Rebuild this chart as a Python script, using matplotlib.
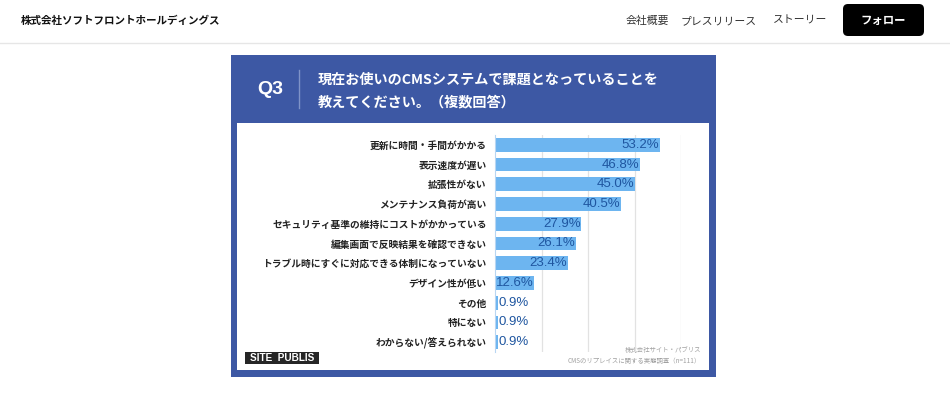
import numpy as np
import matplotlib
matplotlib.use("Agg")
import matplotlib.pyplot as plt
from matplotlib.patches import Rectangle, FancyBboxPatch

plt.rcParams["font.family"] = ["Noto Sans CJK JP", "DejaVu Sans"]

# ---------- data ----------
categories = [
    "更新に時間・手間がかかる",
    "表示速度が遅い",
    "拡張性がない",
    "メンテナンス負荷が高い",
    "セキュリティ基準の維持にコストがかかっている",
    "編集画面で反映結果を確認できない",
    "トラブル時にすぐに対応できる体制になっていない",
    "デザイン性が低い",
    "その他",
    "特にない",
    "わからない/答えられない",
]
values = [53.2, 46.8, 45.0, 40.5, 27.9, 26.1, 23.4, 12.6, 0.9, 0.9, 0.9]
grid_ticks = [15, 30, 45, 60]

title_lines = ["現在お使いのCMSシステムで課題となっていることを", "教えてください。（複数回答）"]
nav_items = ["会社概要", "プレスリリース", "ストーリー"]

W, H = 950, 396
FRAME_BLUE = "#3d58a4"
BAR_BLUE = "#6db5f0"
VAL_BLUE = "#1f56a0"

fig = plt.figure(figsize=(W / 100, H / 100), dpi=100)
fig.patch.set_facecolor("white")

# page layer in pixel coords
bg = fig.add_axes([0, 0, 1, 1])
bg.set_xlim(0, W)
bg.set_ylim(H, 0)
bg.axis("off")

# ---------- header (baseline aligned) ----------
bg.text(21, 24, "株式会社ソフトフロントホールディングス", fontsize=7.6,
        fontweight="bold", color="#111111", va="baseline", ha="left")
for label, x in zip(nav_items, [626, 681, 773]):
    bg.text(x, 24, label, fontsize=7.8, color="#333333", va="baseline", ha="left")
bg.add_patch(FancyBboxPatch((843, 4), 81, 32, boxstyle="round,pad=0,rounding_size=5",
                            facecolor="black", edgecolor="none"))
bg.text(883, 24, "フォロー", fontsize=8.2, fontweight="bold", color="white",
        va="baseline", ha="center")
bg.plot([0, W], [43, 43], color="#e6e6e6", lw=1)

# ---------- chart card ----------
bg.add_patch(Rectangle((231, 55), 485, 322, facecolor=FRAME_BLUE, edgecolor="none"))
bg.add_patch(Rectangle((237, 123), 472, 247, facecolor="white", edgecolor="none"))
bg.text(270, 89, "Q3", fontsize=14, fontweight="bold", color="white",
        va="center", ha="center", family=["Liberation Sans"])
bg.plot([299, 299], [70, 108], color="#7f93c8", lw=1)
bg.text(318, 78, title_lines[0], fontsize=10.2, fontweight="bold", color="white",
        va="center_baseline", ha="left")
bg.text(318, 101, title_lines[1], fontsize=10.2, fontweight="bold", color="white",
        va="center_baseline", ha="left")

# SITE PUBLIS logo
bg.add_patch(Rectangle((245, 352), 74, 12, facecolor="#262626", edgecolor="none"))
bg.text(282, 358, "SITE  PUBLIS", fontsize=7.2, fontweight="bold", color="white",
        va="center", ha="center", family=["Liberation Sans"])

# source note
bg.text(701, 349, "株式会社サイト・パブリス", fontsize=4.6, color="#a0a0a0",
        va="center_baseline", ha="right")
bg.text(701, 360, "CMSのリプレイスに関する実態調査（n=111）", fontsize=4.6, color="#a0a0a0",
        va="center_baseline", ha="right")

# ---------- bar chart ----------
ax_l, ax_r, ax_t, ax_b = 495, 681, 135, 352
ax = fig.add_axes([ax_l / W, 1 - ax_b / H, (ax_r - ax_l) / W, (ax_b - ax_t) / H])
ax.set_facecolor("none")

y = np.arange(len(categories))
ax.barh(y, values, height=0.7, color=BAR_BLUE, zorder=2)
ax.set_xlim(0, 60)
ax.set_ylim(len(categories) - 0.5, -0.5)
ax.set_xticks(grid_ticks)
ax.xaxis.grid(True, color="#e2e2e2", lw=0.9, zorder=0)
ax.tick_params(length=0, labelbottom=False)
ax.set_yticks(y)
ax.set_yticklabels(categories, fontsize=7, fontweight="bold", color="#222222")
ax.tick_params(axis="y", pad=6)
for s in ("top", "right", "bottom"):
    ax.spines[s].set_visible(False)
ax.spines["left"].set_color("#b8d6f2")
ax.spines["left"].set_linewidth(0.8)

for yi, v in zip(y, values):
    txt = f"{v:.1f}%"
    if v > 5:
        ax.text(v - 0.2, yi, txt, ha="right", va="center", fontsize=9.5,
                color=VAL_BLUE, zorder=3, family=["Liberation Sans"])
    else:
        ax.text(v + 0.3, yi, txt, ha="left", va="center", fontsize=9.5,
                color=VAL_BLUE, zorder=3, family=["Liberation Sans"])

fig.savefig("out.png", dpi=100)
